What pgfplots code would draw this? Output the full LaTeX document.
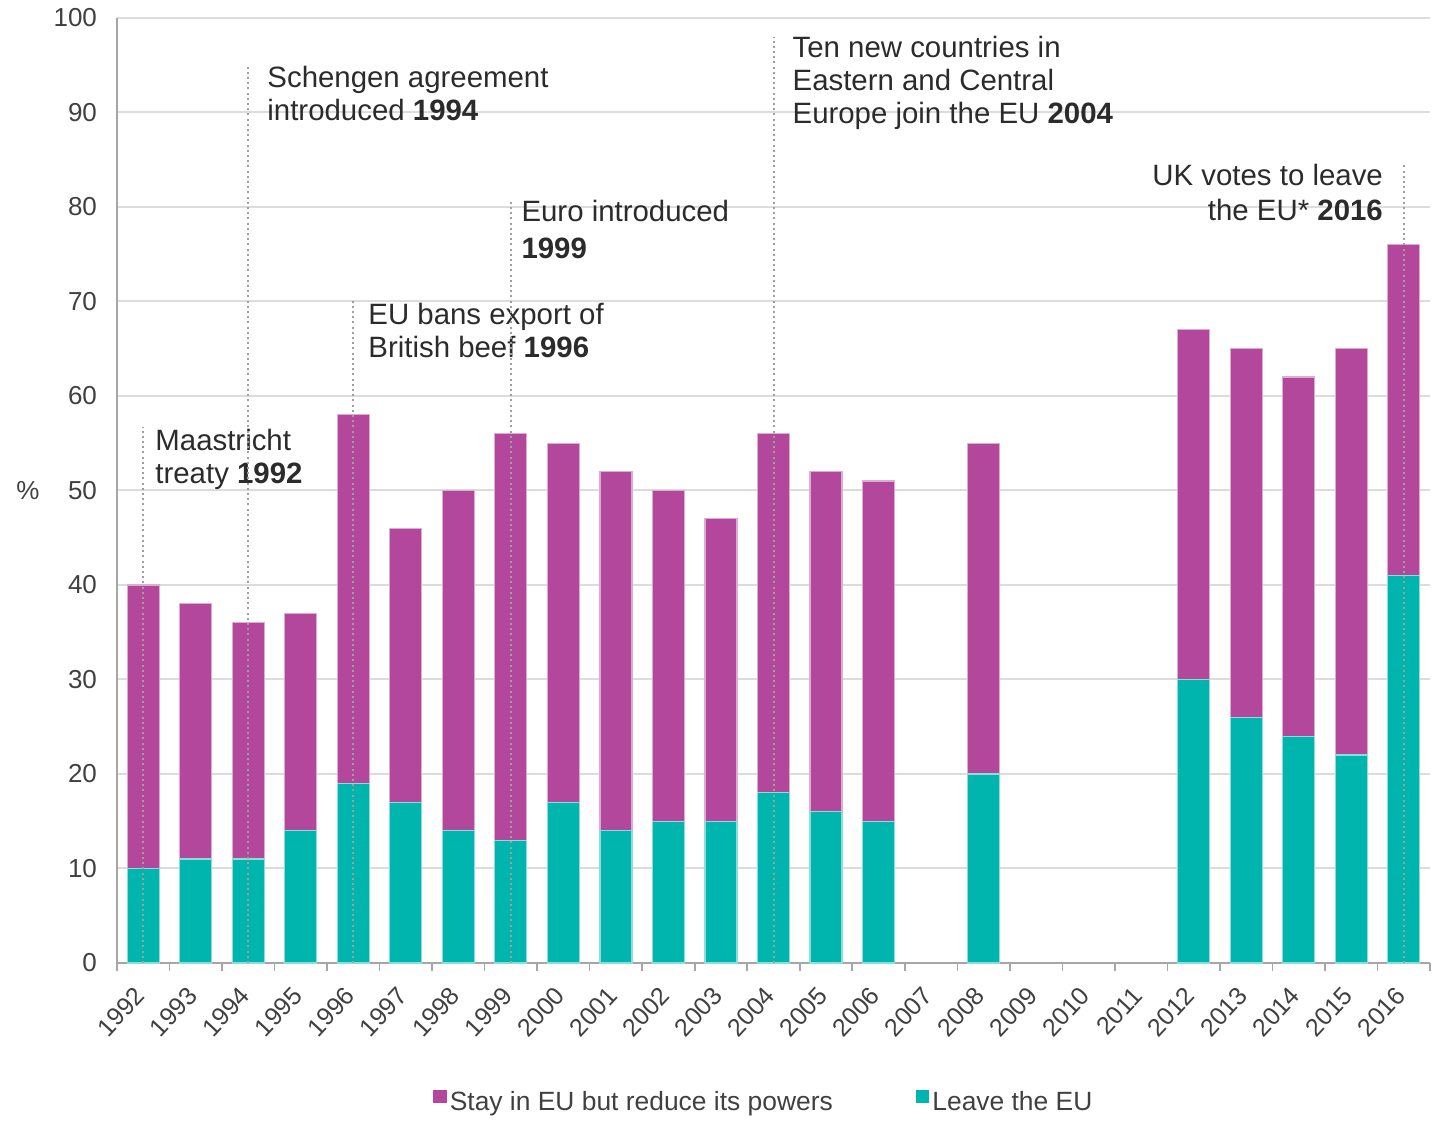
\documentclass[border=0pt]{standalone}
\usepackage{fontspec}
\setmainfont{Liberation Sans}
\usepackage{pgfplots}
\usepackage{pgfplotstable}
\pgfplotsset{compat=1.18}

\definecolor{staycol}{HTML}{B3479B}
\definecolor{leavecol}{HTML}{00B5AD}
\definecolor{gridc}{HTML}{DCDCDC}
\definecolor{axisc}{HTML}{A6A6A6}
\definecolor{txt}{HTML}{2B2B2B}
\definecolor{tickc}{HTML}{404040}

% x = position (0 = 1992), leave = "Leave the EU", stay = "Stay in EU but reduce its powers"
\pgfplotstableread{
x  leave stay
0  10 30
1  11 27
2  11 25
3  14 23
4  19 39
5  17 29
6  14 36
7  13 43
8  17 38
9  14 38
10 15 35
11 15 32
12 18 38
13 16 36
14 15 36
16 20 35
20 30 37
21 26 39
22 24 38
23 22 43
24 41 35
}\eudata

\tikzset{
  marker/.style={gray!75, line width=1pt, dash pattern=on 1pt off 1.6pt},
  ann/.style={inner sep=0pt, text=txt, font=\fontsize{14.7}{16.5}\selectfont},
}
\pgfplotsset{
  sqlegend/.style={legend image code/.code={\fill[##1] (0pt,-0.3pt) rectangle (6.8pt,6.5pt);}},
}

\begin{document}
\begin{tikzpicture}
\begin{axis}[
    scale only axis,
    width=656.5pt, height=472.5pt,
    ybar stacked, bar width=16pt,
    xmin=-0.5, xmax=24.5, ymin=0, ymax=100,
    axis x line*=bottom, axis y line*=left,
    axis line style={axisc, line width=1pt},
    xtick={0,...,24},
    xticklabels={1992,1993,1994,1995,1996,1997,1998,1999,2000,2001,2002,2003,2004,2005,2006,2007,2008,2009,2010,2011,2012,2013,2014,2015,2016},
    minor xtick={-0.5,0.5,...,24.5},
    ytick={0,10,...,100},
    major tick length=0pt, minor tick length=4pt,
    tick align=outside,
    minor tick style={axisc, line width=0.8pt},
    ymajorgrids, grid style={gridc, line width=1pt},
    /pgf/number format/assume math mode=true,
    yticklabel style={font=\fontsize{13}{15}\selectfont, text=tickc, xshift=-6.5pt},
    xticklabel style={font=\fontsize{12.5}{14}\selectfont, text=tickc, inner sep=0pt,
        xshift=-5pt, yshift=-11pt, rotate=47, anchor=north east},
    ylabel={\%},
    ylabel style={at={(rel axis cs:0,0.5)}, anchor=center, rotate=-90, xshift=-44.5pt, font=\fontsize{13}{15}\selectfont, text=tickc},
    clip=false,
    legend columns=2,
    legend style={draw=none, fill=none, at={(0.493,-0.148)}, anchor=center,
        font=\fontsize{13.2}{15}\selectfont, text=tickc,
        /tikz/every even column/.append style={column sep=40pt},
        nodes={inner sep=1.5pt}},
    sqlegend,
]
\addplot[fill=leavecol, draw=leavecol!45, line width=0.6pt, forget plot] table[x=x, y=leave]{\eudata};
\addplot[fill=staycol, draw=staycol!45, line width=0.6pt, forget plot] table[x=x, y=stay]{\eudata};
\addlegendimage{fill=staycol, draw=none}
\addlegendentry{Stay in EU but reduce its powers}
\addlegendimage{fill=leavecol, draw=none}
\addlegendentry{Leave the EU}

% event markers: ends stored here, drawn after the axis so they lie over the bars
\coordinate (a0) at (axis cs:0,0);   \coordinate (b0) at (axis cs:0,56.7);
\coordinate (a2) at (axis cs:2,0);   \coordinate (b2) at (axis cs:2,94.8);
\coordinate (a4) at (axis cs:4,0);   \coordinate (b4) at (axis cs:4,70.2);
\coordinate (a7) at (axis cs:7,0);   \coordinate (b7) at (axis cs:7,80.7);
\coordinate (a12) at (axis cs:12,0); \coordinate (b12) at (axis cs:12,98.0);
\coordinate (a24) at (axis cs:24,0); \coordinate (b24) at (axis cs:24,84.5);

\node[ann, anchor=north west, align=left] at (axis cs:0.224,56.5) {Maastricht\\treaty \textbf{1992}};
\node[ann, anchor=north west, align=left] at (axis cs:2.357,94.9) {Schengen agreement\\introduced \textbf{1994}};
\node[ann, anchor=north west, align=left] at (axis cs:4.28,69.9) {EU bans export of\\British beef \textbf{1996}};
\node[ann, anchor=north west, align=left, font=\fontsize{14.7}{18.5}\selectfont] at (axis cs:7.195,80.8) {Euro introduced\\\textbf{1999}};
\node[ann, anchor=north west, align=left] at (axis cs:12.357,98.1) {Ten new countries in\\Eastern and Central\\Europe join the EU \textbf{2004}};
\node[ann, anchor=north east, align=right, font=\fontsize{14.7}{17.5}\selectfont] at (axis cs:23.61,84.55) {UK votes to leave\\the EU* \textbf{2016}};
\end{axis}
\foreach \k in {0,2,4,7,12,24} {\draw[marker] (a\k) -- (b\k);}
\pgfresetboundingbox
\path[use as bounding box] (-58.5pt,-80.5pt) rectangle (665.5pt,481.5pt);
\end{tikzpicture}
\end{document}
